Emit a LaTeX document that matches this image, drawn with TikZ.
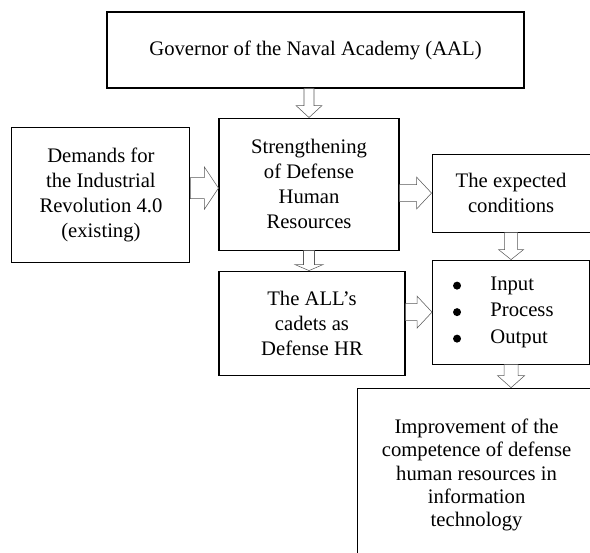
\documentclass[tikz,border=0pt]{standalone}
\usepackage{fontspec}
\setmainfont{Liberation Serif}
\usepackage{tikz}
\usetikzlibrary{calc}
\usetikzlibrary{positioning}

% hollow block arrows: from, to, shaft half, head half, head length
\newcommand{\blockdown}[5]{%
  \draw[arrowline] let \p1=(#1), \p2=(#2) in
    (\x2-#3,\y1) -- (\x2-#3,\y2+#5) -- (\x2-#4,\y2+#5) -- (\x2,\y2)
    -- (\x2+#4,\y2+#5) -- (\x2+#3,\y2+#5) -- (\x2+#3,\y1) -- cycle;}
\newcommand{\blockright}[5]{%
  \draw[arrowline] let \p1=(#1), \p2=(#2) in
    (\x1,\y2-#3) -- (\x2-#5,\y2-#3) -- (\x2-#5,\y2-#4) -- (\x2,\y2)
    -- (\x2-#5,\y2+#4) -- (\x2-#5,\y2+#3) -- (\x1,\y2+#3) -- cycle;}

\begin{document}
\begin{tikzpicture}[x=0.75pt, y=-0.75pt,
    flowbox/.style={rectangle, draw=black, line width=0.8pt, align=center, inner sep=0pt,
      font=\fontsize{15.5}{18.75}\selectfont},
    arrowline/.style={draw=black!65, line width=0.4pt, fill=white}]
    \useasboundingbox (0,0) rectangle (590,553);
    %Nodes
    \node[flowbox, minimum width=312.75pt, minimum height=57pt] (governor) at (315.5,50) {Governor of the Naval Academy (AAL)};
    % Middle row
    \node[flowbox, minimum width=135pt, minimum height=99pt] (strength) [below=21.75pt of governor, xshift=-4.875pt] {Strengthening\\of Defense\\Human\\Resources};
    \node[flowbox, minimum width=133.5pt, minimum height=101.25pt] (demands) [left=21pt of strength, yshift=-7.875pt] {Demands for\\the Industrial\\Revolution 4.0\\(existing)};
    \node[flowbox, minimum width=118.5pt, minimum height=58.5pt] (expected) [right=24pt of strength, yshift=-6.75pt] {The expected\\conditions};
    % Lower row
    \node[flowbox, minimum width=139.5pt, minimum height=78pt] (cadets) [below=15pt of strength, xshift=2.25pt] {The ALL's\\cadets as\\Defense HR};
    \node[flowbox, minimum width=117.75pt, minimum height=78pt, text width=117.75pt, align=left,
      font=\fontsize{15.5}{20}\selectfont] (ipo) [below=20.25pt of expected] {%
      \hspace*{43.4pt}Input\\
      \hspace*{43.4pt}Process\\
      \hspace*{43.4pt}Output};
    % bullets of the list
    \foreach \by in {-26.5,0,26.5}
      \fill ($(ipo.west)+(25,\by)$) circle (3pt);
    \node[flowbox, minimum width=178.5pt, minimum height=130.5pt,
      font=\fontsize{15.5}{17.5}\selectfont] (improve) [below=17.25pt of ipo, xshift=-25.875pt] {Improvement of the\\competence of defense\\human resources in\\information\\technology};

    % Arrows
    \blockdown{governor.south}{strength.north}{3.75pt}{9.75pt}{9pt}
    \blockright{demands.east}{$(strength.west)+(0,4)$}{7.875pt}{15.75pt}{10.5pt}
    \blockright{strength.east}{expected.west}{6.375pt}{12pt}{11.25pt}
    \blockdown{strength.south}{cadets.north -| strength.south}{4.125pt}{10.5pt}{4.5pt}
    \blockright{cadets.east}{ipo.west}{6.375pt}{12pt}{11.25pt}
    \blockdown{expected.south}{ipo.north}{4.875pt}{9.375pt}{7.5pt}
    \blockdown{ipo.south}{improve.north -| ipo.south}{5.25pt}{10.125pt}{9pt}

\end{tikzpicture}
\end{document}
